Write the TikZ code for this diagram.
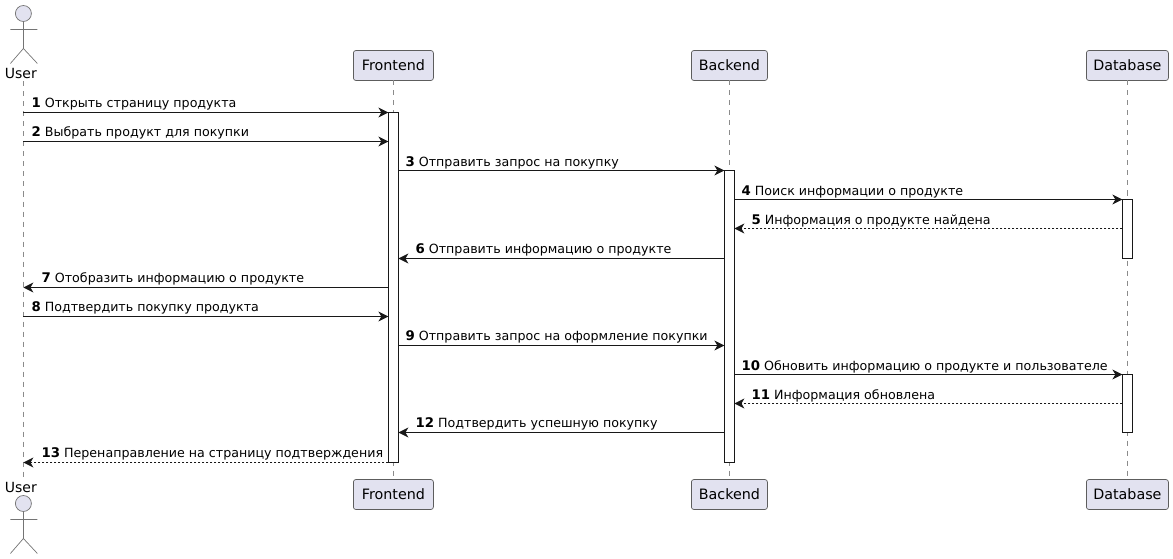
\documentclass[tikz,border=0pt]{standalone}
\usepackage{fontspec}
\setmainfont{DejaVu Sans}
\usetikzlibrary{arrows.meta}
\definecolor{pfill}{HTML}{E2E2F0}
\definecolor{pline}{HTML}{181818}
\newcommand{\num}[1]{{\fontsize{13.3}{15}\selectfont\textbf{#1}}}
\tikzset{
  x=1pt,y=-1pt,
  participant/.style={draw=pline!70,line width=0.7pt,fill=pfill,rounded corners=2.5pt,minimum height=30pt,inner sep=0pt,outer sep=0pt,font=\fontsize{14.3}{16}\selectfont},
  lifeline/.style={draw=pline!50,line width=0.7pt,dash pattern=on 5pt off 5pt},
  actbar/.style={draw=pline,line width=1pt,fill=white,minimum width=10pt,inner sep=0pt,outer sep=0pt},
  msg/.style={draw=pline,line width=1pt,-{Stealth[length=10pt,width=10pt,inset=3pt]}},
  ret/.style={msg,dash pattern=on 2pt off 2pt},
  msglabel/.style={anchor=base west,inner sep=0pt,yshift=0.5pt,font=\fontsize{12.65}{15}\selectfont},
  actorname/.style={inner sep=0pt,font=\fontsize{14}{16}\selectfont,anchor=base}
}
\begin{document}
\begin{tikzpicture}
\useasboundingbox (0,0) rectangle (1173,559);
\begin{scope}[shift={(0.4,0.5)}]
% participants
\node[participant,minimum width=80pt] (fe) at (393,65) {Frontend};
\node[participant,minimum width=76pt] (be) at (729,65) {Backend};
\node[participant,minimum width=82pt] (db) at (1127,65) {Database};
\node[participant,minimum width=80pt] (feb) at (393,494) {Frontend};
\node[participant,minimum width=76pt] (beb) at (729,494) {Backend};
\node[participant,minimum width=82pt] (dbb) at (1127,494) {Database};
\node[actorname] (us) at (20.5,78) {User};
\node[actorname] (usb) at (20.5,492) {User};
\coordinate (ul) at (23,81);
\coordinate (ulb) at (23,480);
% lifelines
\draw[lifeline] (ul) -- (ulb);
\draw[lifeline] (fe.south) -- (feb.north);
\draw[lifeline] (be.south) -- (beb.north);
\draw[lifeline] (db.south) -- (dbb.north);
% actors
\begin{scope}[draw=pline!60,line width=0.7pt]
\draw[fill=pfill] (23,13) circle (8);
\draw (23,21) -- (23,48) (10,29) -- (37,29) (23,48) -- (10,63) (23,48) -- (37,63);
\draw[fill=pfill] (23,503) circle (8);
\draw (23,511) -- (23,538) (10,519) -- (37,519) (23,538) -- (10,553) (23,538) -- (37,553);
\end{scope}
% activation bars
\node[actbar,minimum height=350pt] (af) at (393,287) {};
\node[actbar,minimum height=292pt] (ab) at (729,316) {};
\node[actbar,minimum height=59pt] (ad1) at (1127,228.5) {};
\node[actbar,minimum height=58pt] (ad2) at (1127,403) {};
% messages
\draw[msg] (ul |- 0,112) -- (af.west |- 0,112);
\node[msglabel] (l1) at (31,107.5) {\num{1} Открыть страницу продукта};
\draw[msg] (ul |- 0,141) -- (af.west |- 0,141);
\node[msglabel] (l2) at (31,136.5) {\num{2} Выбрать продукт для покупки};
\draw[msg] (af.east |- 0,170) -- (ab.west |- 0,170);
\node[msglabel] (l3) at (405,166.2) {\num{3} Отправить запрос на покупку};
\draw[msg] (ab.east |- 0,199) -- (ad1.west |- 0,199);
\node[msglabel] (l4) at (741,195.2) {\num{4} Поиск информации о продукте};
\draw[ret] (ad1.west |- 0,228) -- (ab.east |- 0,228);
\node[msglabel] (l5) at (751,224.2) {\num{5} Информация о продукте найдена};
\draw[msg] (ab.west |- 0,258) -- (af.east |- 0,258);
\node[msglabel] (l6) at (415,253) {\num{6} Отправить информацию о продукте};
\draw[msg] (af.west |- 0,287) -- (ul |- 0,287);
\node[msglabel] (l7) at (41,282) {\num{7} Отобразить информацию о продукте};
\draw[msg] (ul |- 0,316) -- (af.west |- 0,316);
\node[msglabel] (l8) at (31,311) {\num{8} Подтвердить покупку продукта};
\draw[msg] (af.east |- 0,345) -- (ab.west |- 0,345);
\node[msglabel] (l9) at (405,340) {\num{9} Отправить запрос на оформление покупки};
\draw[msg] (ab.east |- 0,374) -- (ad2.west |- 0,374);
\node[msglabel] (l10) at (741,370.2) {\num{10} Обновить информацию о продукте и пользователе};
\draw[ret] (ad2.west |- 0,403) -- (ab.east |- 0,403);
\node[msglabel] (l11) at (751,399.2) {\num{11} Информация обновлена};
\draw[msg] (ab.west |- 0,432) -- (af.east |- 0,432);
\node[msglabel] (l12) at (415,427.5) {\num{12} Подтвердить успешную покупку};
\draw[ret] (af.west |- 0,462) -- (ul |- 0,462);
\node[msglabel] (l13) at (41,457) {\num{13} Перенаправление на страницу подтверждения};
\end{scope}
\end{tikzpicture}
\end{document}
